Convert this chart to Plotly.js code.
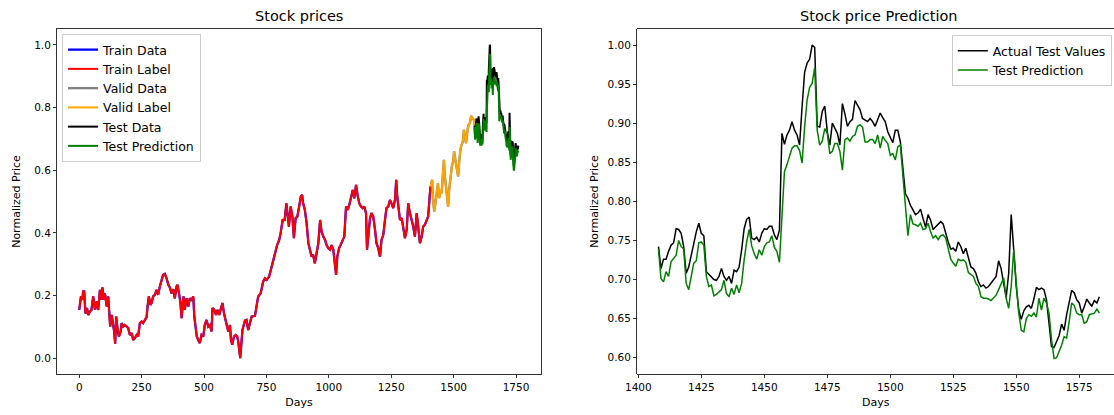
<!DOCTYPE html>
<html>
<head>
<meta charset="utf-8">
<script src="https://cdn.plot.ly/plotly-3.0.1.min.js"></script>
<style>html,body{margin:0;padding:0;background:#fff;}#chart{width:1114px;height:415px;}</style>
</head>
<body>
<div id="chart"></div>
<script>
// ---- Training portion (days, normalized price) ----
const trainDays = [0,7,12,16,20,25,31,36,43,49,56,63,69,76,83,89,93,99,103,110,116,120,124,130,136,140,144,148,154,159,166,170,176,183,190,196,203,210,216,223,230,236,243,250,256,263,270,274,279,285,290,296,303,310,316,323,330,336,343,350,357,363,370,377,383,390,394,399,405,410,414,418,423,430,437,443,450,457,461,466,471,477,483,490,497,503,510,517,524,530,534,541,548,554,561,568,574,580,584,590,597,604,608,613,620,627,633,637,642,645,654,664,670,677,684,691,704,711,717,727,737,744,751,761,771,777,784,793,801,807,815,823,830,835,840,847,854,860,867,874,882,888,893,897,904,911,918,924,931,937,944,951,958,965,971,978,985,991,998,1005,1011,1018,1025,1029,1034,1041,1047,1055,1062,1069,1075,1082,1089,1096,1102,1109,1115,1122,1129,1136,1142,1149,1153,1158,1165,1171,1178,1185,1191,1198,1205,1211,1218,1225,1231,1238,1245,1251,1258,1265,1270,1274,1280,1285,1292,1298,1305,1312,1318,1325,1331,1338,1345,1352,1358,1365,1372,1378,1385,1392,1398,1405,1408];
const trainValues = [0.154,0.197,0.186,0.213,0.213,0.143,0.160,0.138,0.149,0.154,0.197,0.154,0.181,0.154,0.218,0.186,0.226,0.186,0.207,0.165,0.197,0.154,0.101,0.138,0.112,0.085,0.046,0.133,0.090,0.069,0.085,0.112,0.101,0.106,0.101,0.096,0.074,0.080,0.058,0.064,0.074,0.069,0.112,0.117,0.112,0.122,0.131,0.167,0.197,0.170,0.176,0.197,0.202,0.218,0.202,0.229,0.255,0.266,0.269,0.255,0.234,0.226,0.207,0.220,0.191,0.229,0.234,0.207,0.181,0.128,0.160,0.197,0.154,0.191,0.165,0.191,0.186,0.197,0.133,0.090,0.069,0.058,0.048,0.074,0.069,0.106,0.122,0.101,0.106,0.085,0.160,0.154,0.138,0.154,0.138,0.160,0.176,0.143,0.128,0.106,0.085,0.106,0.058,0.043,0.069,0.074,0.069,0.053,0.005,0.000,0.090,0.120,0.122,0.090,0.112,0.133,0.135,0.165,0.197,0.207,0.245,0.255,0.250,0.261,0.293,0.314,0.335,0.361,0.377,0.399,0.441,0.441,0.494,0.463,0.420,0.484,0.452,0.383,0.447,0.452,0.484,0.516,0.521,0.494,0.473,0.431,0.367,0.346,0.324,0.330,0.303,0.335,0.367,0.441,0.404,0.388,0.377,0.361,0.351,0.346,0.361,0.346,0.303,0.266,0.324,0.351,0.361,0.377,0.388,0.484,0.473,0.489,0.516,0.537,0.510,0.553,0.521,0.494,0.484,0.479,0.484,0.463,0.346,0.399,0.447,0.463,0.452,0.410,0.367,0.351,0.324,0.377,0.393,0.441,0.479,0.484,0.505,0.494,0.479,0.505,0.569,0.516,0.468,0.441,0.447,0.420,0.383,0.410,0.494,0.463,0.447,0.420,0.388,0.463,0.420,0.367,0.388,0.420,0.426,0.441,0.452,0.526,0.548];

// ---- Validation portion ----
const validDays = [1408,1414,1418,1422,1427,1433,1437,1442,1448,1452,1456,1461,1465,1469,1474,1478,1482,1488,1493,1498,1502,1508,1513,1518,1522,1527,1532,1537,1541,1546,1550,1556,1560,1565,1570,1576,1581,1584];
const validValues = [0.548,0.569,0.505,0.468,0.494,0.526,0.558,0.511,0.537,0.526,0.569,0.633,0.580,0.548,0.516,0.484,0.537,0.580,0.612,0.628,0.660,0.628,0.601,0.580,0.622,0.665,0.681,0.691,0.729,0.697,0.686,0.729,0.745,0.750,0.773,0.765,0.761,0.742];

// ---- Test portion (as plotted on the prediction panel) ----
const testDays = [];
for (let d = 1408; d <= 1583; d++) testDays.push(d);
const testOffset = 176; // test days on the left panel = prediction-panel day + offset
const testActual = [
0.742,0.714,0.726,0.726,0.736,0.744,0.747,0.765,0.764,0.759,
0.742,0.708,0.716,0.733,0.746,0.761,0.772,0.759,0.756,0.710,
0.707,0.704,0.700,0.699,0.704,0.714,0.704,0.699,0.704,0.695,
0.712,0.710,0.716,0.738,0.765,0.777,0.780,0.753,0.751,0.754,
0.748,0.759,0.765,0.764,0.768,0.768,0.757,0.751,0.763,0.887,
0.873,0.885,0.891,0.902,0.891,0.885,0.872,0.921,0.965,0.977,
0.982,1.000,0.997,0.896,0.895,0.915,0.922,0.889,0.872,0.900,
0.893,0.887,0.872,0.925,0.912,0.896,0.902,0.905,0.929,0.922,
0.917,0.906,0.904,0.902,0.906,0.902,0.896,0.904,0.913,0.907,
0.902,0.889,0.883,0.875,0.891,0.891,0.876,0.840,0.810,0.804,
0.795,0.789,0.783,0.785,0.790,0.778,0.767,0.783,0.776,0.764,
0.767,0.771,0.774,0.771,0.759,0.748,0.739,0.740,0.736,0.748,
0.742,0.733,0.740,0.727,0.716,0.714,0.708,0.697,0.691,0.693,
0.689,0.691,0.695,0.700,0.704,0.724,0.714,0.695,0.677,0.708,
0.783,0.738,0.691,0.661,0.649,0.660,0.665,0.667,0.663,0.675,
0.690,0.687,0.689,0.687,0.674,0.644,0.614,0.613,0.620,0.628,
0.643,0.635,0.655,0.672,0.686,0.683,0.674,0.670,0.657,0.665,
0.675,0.670,0.666,0.673,0.670,0.678];
const testPred = [
0.739,0.701,0.697,0.710,0.704,0.723,0.727,0.731,0.750,0.742,
0.739,0.695,0.687,0.704,0.721,0.724,0.747,0.748,0.744,0.704,
0.691,0.693,0.679,0.681,0.684,0.687,0.699,0.682,0.678,0.689,
0.681,0.693,0.683,0.695,0.725,0.748,0.764,0.743,0.733,0.726,
0.738,0.731,0.742,0.747,0.748,0.756,0.741,0.736,0.722,0.785,
0.838,0.847,0.858,0.868,0.871,0.871,0.865,0.849,0.895,0.930,
0.946,0.951,0.971,0.891,0.872,0.877,0.893,0.887,0.861,0.864,
0.874,0.874,0.864,0.840,0.879,0.881,0.877,0.883,0.885,0.896,
0.898,0.895,0.876,0.876,0.879,0.879,0.874,0.885,0.868,0.883,
0.878,0.874,0.859,0.861,0.853,0.870,0.872,0.836,0.802,0.756,
0.783,0.771,0.770,0.768,0.772,0.764,0.765,0.772,0.761,0.753,
0.756,0.751,0.756,0.757,0.753,0.738,0.726,0.721,0.717,0.726,
0.724,0.725,0.722,0.709,0.706,0.704,0.695,0.691,0.678,0.676,
0.676,0.675,0.673,0.676,0.680,0.687,0.695,0.702,0.676,0.663,
0.691,0.738,0.695,0.657,0.635,0.633,0.650,0.655,0.653,0.657,
0.652,0.676,0.661,0.676,0.670,0.657,0.623,0.599,0.600,0.608,
0.616,0.627,0.625,0.646,0.670,0.667,0.657,0.655,0.655,0.644,
0.646,0.655,0.656,0.657,0.662,0.657];

const leftXTicks = [0,250,500,750,1000,1250,1500,1750];
const leftYTicks = [0.0,0.2,0.4,0.6,0.8,1.0];
const rightXTicks = [1400,1425,1450,1475,1500,1525,1550,1575];
const rightYTicks = [0.60,0.65,0.70,0.75,0.80,0.85,0.90,0.95,1.00];

const FONT = 'DejaVu Sans, Arial, sans-serif';
const testDaysLeft = testDays.map(d => d + testOffset);

const traces = [
  {x: trainDays, y: trainValues, name: 'Train Data', mode: 'lines', line: {color: '#0000ff', width: 2.3}, legend: 'legend'},
  {x: trainDays, y: trainValues, name: 'Train Label', mode: 'lines', line: {color: '#ff0000', width: 2}, legend: 'legend'},
  {x: validDays, y: validValues, name: 'Valid Data', mode: 'lines', line: {color: '#808080', width: 2.4}, legend: 'legend'},
  {x: validDays, y: validValues, name: 'Valid Label', mode: 'lines', line: {color: '#ffa500', width: 2}, legend: 'legend'},
  {x: testDaysLeft, y: testActual, name: 'Test Data', mode: 'lines', line: {color: '#000000', width: 2}, legend: 'legend'},
  {x: testDaysLeft, y: testPred, name: 'Test Prediction', mode: 'lines', line: {color: '#008000', width: 2}, legend: 'legend'},
  {x: testDays, y: testActual, name: 'Actual Test Values', mode: 'lines', line: {color: '#000000', width: 1.5}, xaxis: 'x2', yaxis: 'y2', legend: 'legend2'},
  {x: testDays, y: testPred, name: 'Test Prediction', mode: 'lines', line: {color: '#008000', width: 1.5}, xaxis: 'x2', yaxis: 'y2', legend: 'legend2'}
];

const axisCommon = {
  showline: true, linecolor: '#000', linewidth: 0.8,
  ticks: 'outside', ticklen: 3.5, tickwidth: 0.8, tickcolor: '#000',
  showgrid: false, zeroline: false,
  tickfont: {family: FONT, size: 10.5, color: '#000'}
};

const legendCommon = {
  bordercolor: '#cccccc', borderwidth: 1, bgcolor: 'rgba(255,255,255,0.8)',
  font: {family: FONT, size: 12.5, color: '#000'}, tracegroupgap: 0, itemwidth: 30
};

const layout = {
  width: 1114, height: 415,
  margin: {l: 0, r: 0, t: 29, b: 41},
  paper_bgcolor: '#fff', plot_bgcolor: '#fff',
  showlegend: true,
  xaxis: Object.assign({}, axisCommon, {domain: [0.0514, 0.4854], range: [-88, 1849], tickvals: leftXTicks, mirror: true, anchor: 'y',
    title: {text: 'Days', font: {family: FONT, size: 11, color: '#000'}, standoff: 6}}),
  yaxis: Object.assign({}, axisCommon, {range: [-0.0505, 1.0505], tickvals: leftYTicks, tickformat: '.1f', mirror: true, anchor: 'x',
    title: {text: 'Normalized Price', font: {family: FONT, size: 11, color: '#000'}, standoff: 11}}),
  xaxis2: Object.assign({}, axisCommon, {domain: [0.5721, 1.0], range: [1399.6, 1588.8], tickvals: rightXTicks, mirror: true, anchor: 'y2',
    title: {text: 'Days', font: {family: FONT, size: 11, color: '#000'}, standoff: 6}}),
  yaxis2: Object.assign({}, axisCommon, {range: [0.5791, 1.0205], tickvals: rightYTicks, tickformat: '.2f', mirror: false, anchor: 'x2',
    title: {text: 'Normalized Price', font: {family: FONT, size: 11, color: '#000'}, standoff: 6}}),
  legend: Object.assign({}, legendCommon, {x: 0.0557, y: 0.9855, xanchor: 'left', yanchor: 'top'}),
  legend2: Object.assign({}, legendCommon, {x: 0.998, y: 0.9826, xanchor: 'right', yanchor: 'top'}),
  annotations: [
    {text: 'Stock prices', xref: 'paper', yref: 'paper', x: 0.2684, y: 1.0377, xanchor: 'center', yanchor: 'middle', showarrow: false, font: {family: FONT, size: 14.5, color: '#000'}},
    {text: 'Stock price Prediction', xref: 'paper', yref: 'paper', x: 0.7890, y: 1.0377, xanchor: 'center', yanchor: 'middle', showarrow: false, font: {family: FONT, size: 14.5, color: '#000'}}
  ]
};

Plotly.newPlot('chart', traces, layout, {staticPlot: true, displayModeBar: false});
</script>
</body>
</html>
